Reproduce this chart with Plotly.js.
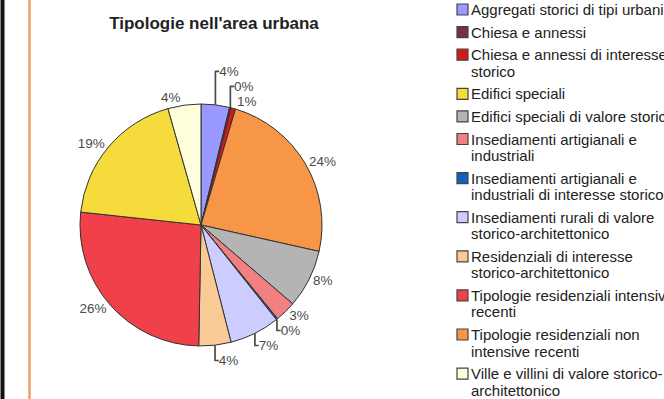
<!DOCTYPE html>
<html>
<head>
<meta charset="utf-8">
<script src="https://cdn.plot.ly/plotly-3.0.1.min.js"></script>
<style>
  html, body { margin: 0; padding: 0; background: #ffffff; }
  #chart { width: 664px; height: 399px; }
</style>
</head>
<body>
<div id="chart"></div>
<script>
// Categories in legend order
const categories = [
  "Aggregati storici di tipi urbani",
  "Chiesa e annessi",
  "Chiesa e annessi di interesse<br>storico",
  "Edifici speciali",
  "Edifici speciali di valore storico",
  "Insediamenti artigianali e<br>industriali",
  "Insediamenti artigianali e<br>industriali di interesse storico",
  "Insediamenti rurali di valore<br>storico-architettonico",
  "Residenziali di interesse<br>storico-architettonico",
  "Tipologie residenziali intensive<br>recenti",
  "Tipologie residenziali non<br>intensive recenti",
  "Ville e villini di valore storico-<br>architettonico"
];
// Shares (%)
const shares = [3.8, 0.2, 0.6, 18.9, 7.8, 2.8, 0.2, 6.7, 4.3, 26.4, 23.9, 4.4];
const colors = ["#9999ff", "#7a2a55", "#d81818", "#f5dc3c", "#b4b4b4", "#f28080",
                "#1060c0", "#ccccff", "#f9c996", "#f0404a", "#f79646", "#ffffdd"];
// Clockwise slice order starting at 12 o'clock (indices into categories)
const sliceOrder = [0, 1, 2, 10, 4, 5, 6, 7, 8, 9, 3, 11];

const W = 664, H = 399;
const px = x => x / W;
const py = y => 1 - y / H;
const FONT = "Liberation Sans, Arial, sans-serif";

const pie = {
  type: "pie",
  sort: false,
  direction: "clockwise",
  rotation: 0,
  labels: sliceOrder.map(i => categories[i].replace("<br>", " ")),
  values: sliceOrder.map(i => shares[i]),
  marker: { colors: sliceOrder.map(i => colors[i]), line: { color: "#333333", width: 1 } },
  textposition: "outside",
  texttemplate: "%{percent:.0%}",
  outsidetextfont: { family: FONT, size: 13.5, color: "#4a4a4a" },
  showlegend: false,
  hoverinfo: "label+percent",
  domain: { x: [px(80), px(322)], y: [py(346), py(104)] }
};

// Legend drawn as annotations + swatches, stacked from the category list
const annotations = [];
const shapes = [
  { type: "line", xref: "paper", yref: "paper", x0: px(2.5), x1: px(2.5), y0: 0, y1: 1,
    line: { color: "#111111", width: 4 } },
  { type: "line", xref: "paper", yref: "paper", x0: px(29.5), x1: px(29.5), y0: 0, y1: 1,
    line: { color: "#eea06a", width: 2.5 } }
];
let yc = 9.5;          // centre of first legend line (px from top)
const lineH = 16.5, itemGap = 22.6;
categories.forEach((c, i) => {
  const lines = c.split("<br>");
  lines.forEach((t, k) => {
    annotations.push({
      xref: "paper", yref: "paper", x: px(470), y: py(yc + k * lineH),
      xanchor: "left", yanchor: "middle", align: "left", showarrow: false,
      text: t, borderpad: 0,
      font: { family: FONT, size: 15, color: "#222222" }
    });
  });
  shapes.push({
    type: "rect", xref: "paper", yref: "paper",
    x0: px(457), x1: px(468), y0: py(yc - 5.5), y1: py(yc + 5.5),
    fillcolor: colors[i], line: { color: "#444444", width: 1.2 }
  });
  yc += itemGap + (lines.length - 1) * lineH;
});

const layout = {
  width: W, height: H,
  margin: { l: 0, r: 0, t: 0, b: 0 },
  paper_bgcolor: "#ffffff",
  title: {
    text: "Tipologie nell'area urbana",
    x: px(214), xanchor: "center", xref: "paper",
    y: py(23), yanchor: "middle", yref: "paper",
    font: { family: FONT, size: 17, color: "#222222", weight: "bold" }
  },
  annotations: annotations,
  shapes: shapes
};

Plotly.newPlot("chart", [pie], layout, { displayModeBar: false, staticPlot: true });
</script>
</body>
</html>
